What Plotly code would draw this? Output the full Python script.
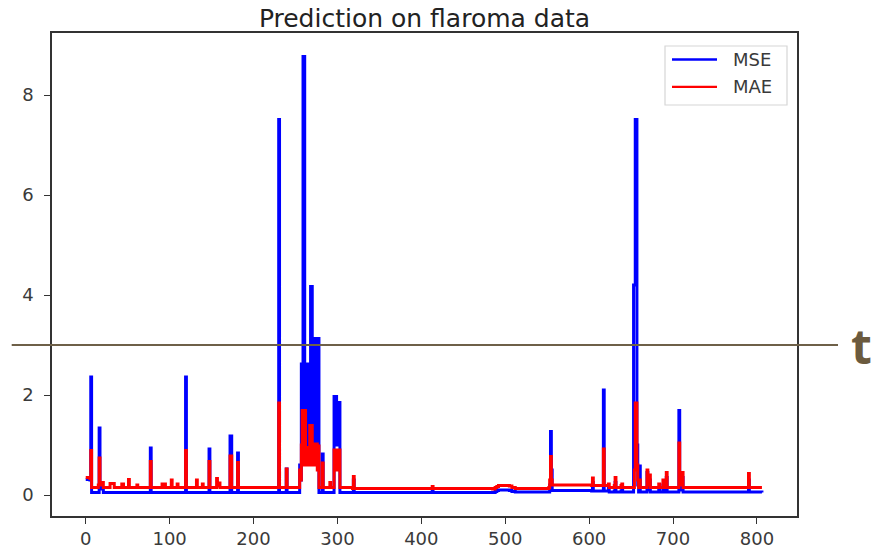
import plotly.graph_objects as go

# ---------------- data ----------------
mse_x = [0, 5, 6, 7, 15, 16, 17, 19, 21, 76, 77, 78, 118, 119, 120, 146, 147, 148,
         171, 172, 173, 174, 180, 181, 182, 229, 230, 231, 238, 239, 240, 254, 255, 256,
         257, 258, 259, 260, 261, 262, 263, 264, 265, 266, 267, 268, 269, 270, 271, 272,
         273, 274, 275, 276, 277, 278, 281, 282, 283, 295, 296, 297, 298, 299, 300, 301,
         302, 303, 318, 319,
         320, 412, 413, 414, 485, 488, 490, 492, 505, 508, 512, 552, 553, 554, 555, 556, 603, 604, 605,
         616, 617, 618, 622, 623, 624, 630, 631, 632, 638, 639, 640, 652, 653, 654, 655,
         656, 657, 658, 659, 660, 661, 668, 669, 670, 672, 673, 682, 683, 684, 688, 689,
         692, 693, 706, 707, 708, 711, 712, 789, 790, 791, 806]
mse_y = [0.31, 0.30, 2.36, 0.05, 0.05, 1.34, 0.12, 0.15, 0.05, 0.05, 0.94, 0.05, 0.05, 2.36, 0.05, 0.05, 0.92, 0.05,
         0.05, 1.18, 1.18, 0.05, 0.05, 0.84, 0.05, 0.05, 7.51, 0.05, 0.05, 0.52, 0.05, 0.05, 0.60, 0.30,
         2.62, 1.00, 8.77, 8.77, 1.00, 2.62, 1.00, 2.62, 1.00, 2.62, 1.00, 4.17, 4.17, 1.00, 2.62, 1.00,
         3.13, 1.00, 3.13, 1.00, 3.13, 0.05, 0.05, 0.82, 0.05, 0.05, 1.97, 1.00, 1.97, 1.00, 1.85, 1.00,
         1.85, 0.05, 0.05, 0.30,
         0.05, 0.05, 0.08, 0.05, 0.05, 0.07, 0.09, 0.10, 0.09, 0.07, 0.06, 0.06, 0.20, 1.27, 0.50, 0.09, 0.08, 0.25, 0.08,
         0.08, 2.10, 0.08, 0.08, 0.15, 0.06, 0.08, 0.25, 0.06, 0.08, 0.15, 0.06, 0.06, 4.20, 4.20, 7.51,
         7.51, 1.00, 0.20, 0.06, 0.58, 0.06, 0.06, 0.45, 0.10, 0.30, 0.06, 0.06, 0.15, 0.06, 0.20, 0.06,
         0.35, 0.06, 0.06, 1.69, 0.10, 0.35, 0.06, 0.06, 0.30, 0.06, 0.05]

mae_x = [0, 5, 6, 7, 15, 16, 17, 19, 21, 28, 29, 33, 34, 42, 43, 44, 45, 50, 51, 52, 60, 61, 62,
         76, 77, 78, 90, 91, 92, 94, 95, 101, 102, 103, 108, 109, 110, 118, 119, 120, 131, 132, 133,
         138, 139, 140, 146, 147, 148, 155, 156, 157, 159, 160, 171, 172, 173, 174, 180, 181, 182,
         229, 230, 231, 238, 239, 240, 254, 255, 256, 257, 258, 259, 260, 261, 262, 263, 264, 265,
         266, 267, 268, 269, 270, 271, 272, 273, 274, 275, 276, 277, 278, 281, 282, 283, 290, 291,
         292, 295, 296, 297, 298, 299, 300, 301, 302, 303, 318, 319, 320, 412, 413, 414, 485, 488,
         490, 492, 505, 508, 512, 552, 553, 554,
         555, 556, 603, 604, 605, 616, 617, 618, 622, 623, 624, 630, 631, 632, 638, 639, 640, 653,
         654, 655, 656, 657, 658, 659, 660, 661, 668, 669, 670, 672, 673, 682, 683, 684, 688, 689,
         692, 693, 706, 707, 708, 711, 712, 789, 790, 791, 806]
mae_y = [0.35, 0.33, 0.89, 0.15, 0.20, 0.74, 0.20, 0.25, 0.15, 0.15, 0.23, 0.23, 0.15, 0.15, 0.22, 0.22, 0.15, 0.15, 0.31, 0.15, 0.15, 0.20, 0.15,
         0.15, 0.67, 0.15, 0.15, 0.22, 0.15, 0.22, 0.15, 0.15, 0.30, 0.15, 0.15, 0.22, 0.15, 0.15, 0.89, 0.15, 0.15, 0.30, 0.15,
         0.15, 0.22, 0.15, 0.15, 0.67, 0.15, 0.15, 0.33, 0.18, 0.24, 0.15, 0.15, 0.78, 0.78, 0.15, 0.15, 0.65, 0.15,
         0.15, 1.84, 0.15, 0.15, 0.52, 0.15, 0.15, 0.50, 0.30, 1.00, 1.69, 0.60, 1.69, 1.69, 0.60, 0.95, 0.60, 0.90,
         0.60, 1.39, 0.60, 1.39, 0.60, 0.90, 0.60, 1.02, 0.60, 1.02, 0.50, 0.98, 0.15, 0.15, 0.64, 0.15, 0.15, 0.25,
         0.15, 0.15, 0.90, 0.50, 0.90, 0.50, 0.90, 0.50, 0.90, 0.15, 0.13, 0.37, 0.13, 0.13, 0.17, 0.13, 0.12, 0.15,
         0.17, 0.19, 0.18, 0.15, 0.13, 0.15, 0.30, 0.77,
         0.30, 0.20, 0.19, 0.34, 0.19, 0.19, 0.92, 0.19, 0.19, 0.22, 0.15, 0.19, 0.35, 0.15, 0.19, 0.22, 0.15, 0.15,
         0.50, 1.84, 1.84, 0.60, 0.30, 0.15, 0.30, 0.15, 0.15, 0.50, 0.20, 0.40, 0.15, 0.15, 0.22, 0.15, 0.30, 0.15,
         0.45, 0.15, 0.15, 1.04, 0.20, 0.45, 0.15, 0.15, 0.43, 0.15, 0.15]

x_ticks = [0, 100, 200, 300, 400, 500, 600, 700, 800]
y_ticks = [0, 2, 4, 6, 8]
threshold = 3
title_text = "Prediction on flaroma data"
series_names = ["MSE", "MAE"]
series_colors = ["#0000ff", "#ff0000"]

# ---------------- layout geometry ----------------
W, H = 873, 548
L, R, T, B = 52, 797, 33, 516          # plot area in pixels
x_range = [-40.2, 847.8]
y_range = [-0.42, 9.24]


def px_to_paper_x(px):
    return (px - L) / (R - L)


def px_to_paper_y(py):
    return (B - py) / (B - T)


FONT = "DejaVu Sans"
AX_COLOR = "#333333"
LW = 3

fig = go.Figure()
fig.add_trace(go.Scatter(x=mse_x, y=mse_y, mode="lines", name=series_names[0],
                         line=dict(color=series_colors[0], width=LW, shape="hv")))
fig.add_trace(go.Scatter(x=mae_x, y=mae_y, mode="lines", name=series_names[1],
                         line=dict(color=series_colors[1], width=LW, shape="hv")))

axis_common = dict(showgrid=False, zeroline=False, showline=True, mirror=True,
                   linecolor=AX_COLOR, linewidth=1.5, ticks="outside", ticklen=6,
                   tickwidth=1.2, tickcolor=AX_COLOR,
                   tickfont=dict(family=FONT, size=18, color="#3a3a3a"))

fig.update_xaxes(range=x_range, tickvals=x_ticks, ticktext=[str(v) for v in x_ticks],
                 **axis_common)
fig.update_yaxes(range=y_range, tickvals=y_ticks, ticktext=[str(v) for v in y_ticks],
                 ticklabelstandoff=7, **axis_common)

# threshold line at y = 3 extending beyond the axes
y_thr_paper = (threshold - y_range[0]) / (y_range[1] - y_range[0])
fig.add_shape(type="line", xref="paper", yref="paper",
              x0=px_to_paper_x(11.7), x1=px_to_paper_x(838),
              y0=y_thr_paper, y1=y_thr_paper,
              line=dict(color="#6e6048", width=2), layer="above")

fig.add_annotation(text="<b>t</b>", xref="paper", yref="paper",
                   x=px_to_paper_x(849), y=y_thr_paper, xanchor="left", yanchor="middle",
                   showarrow=False,
                   font=dict(family="Open Sans", size=48, color="#6b5a3e"))

# legend box (drawn like the reference: long line samples, light-grey frame)
lx0, lx1, ly0, ly1 = px_to_paper_x(665), px_to_paper_x(787), px_to_paper_y(46), px_to_paper_y(105)
fig.add_shape(type="rect", xref="paper", yref="paper", x0=lx0, x1=lx1, y0=ly1, y1=ly0,
              line=dict(color="#d6d6d6", width=1.2), fillcolor="rgba(255,255,255,0.85)",
              layer="above")
for i, (name, col) in enumerate(zip(series_names, series_colors)):
    yy = px_to_paper_y(59.5 + 27.4 * i)
    fig.add_shape(type="line", xref="paper", yref="paper",
                  x0=px_to_paper_x(672), x1=px_to_paper_x(717), y0=yy, y1=yy,
                  line=dict(color=col, width=2.4), layer="above")
    fig.add_annotation(text=name, xref="paper", yref="paper", x=px_to_paper_x(731), y=yy,
                       xanchor="left", yanchor="middle", showarrow=False,
                       font=dict(family=FONT, size=18, color="#3a3a3a"))

fig.update_layout(
    width=W, height=H,
    margin=dict(l=L, r=W - R, t=T, b=H - B, autoexpand=False),
    paper_bgcolor="white", plot_bgcolor="white",
    title=dict(text=title_text, x=0.5, xref="paper", xanchor="center",
               y=1 - 18 / H, yref="container", yanchor="middle",
               font=dict(family=FONT, size=25, color="#222222")),
    showlegend=False,
)

fig.write_html("out.html")
